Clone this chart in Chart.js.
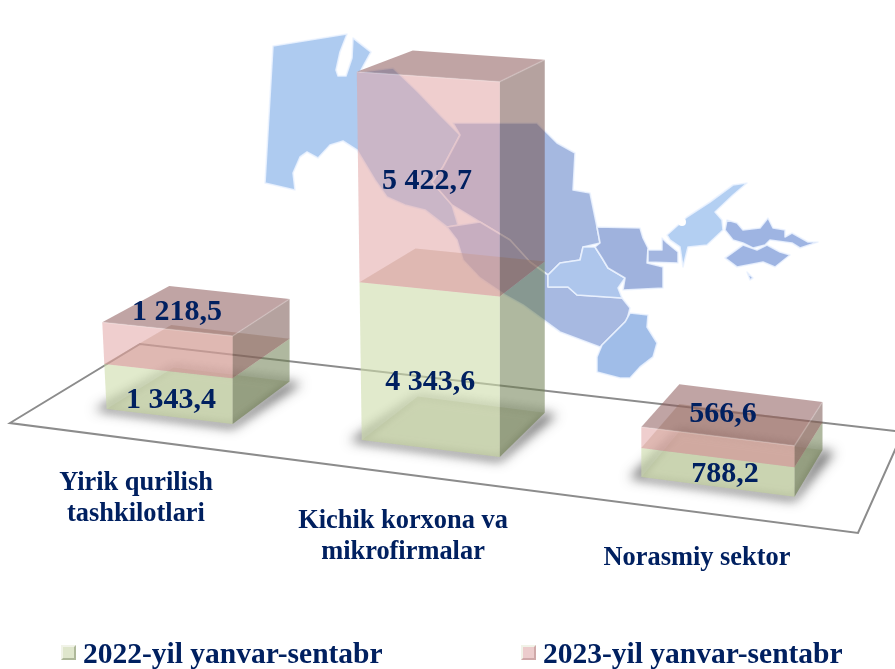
<!DOCTYPE html>
<html>
<head>
<meta charset="utf-8">
<style>
    html, body { margin: 0; padding: 0; background: #fff; overflow: hidden; }
    canvas { display: block; }
</style>
<script src="https://cdn.jsdelivr.net/npm/chart.js@4"></script>
</head>
<body>
<canvas id="chart" width="895" height="669"></canvas>
<script>
// values
const categories = [["Yirik qurilish", "tashkilotlari"], ["Kichik korxona va", "mikrofirmalar"], ["Norasmiy sektor"]];
const seriesNames = ["2022-yil yanvar-sentabr", "2023-yil yanvar-sentabr"];
const values2022 = [1343.4, 4343.6, 788.2];
const values2023 = [1218.5, 5422.7, 566.6];

// fake perspective of the boxes, per category
const floorDrop = [-31, 0, 37];
const centerShift = [0, -13, 0];
const widthScale = [0.913, 1, 1.11];
const heightScale = [0.945, 1, 1.04];
const leftLean = [0.045, 0.0135, 0];
const depthLeft = [67, 56, 38];
const depthRight = [57, 45, 28];

const NAVY = "#002060";
const SERIF = '"Liberation Serif", "Times New Roman", serif';
const faces = [
    { front: "rgba(205,220,170,.6)", side: "rgba(110,125,80,.55)", top: "rgba(170,150,110,.28)", floor: "rgba(120,125,70,.2)" },
    { front: "rgba(225,165,165,.55)", side: "rgba(120,85,80,.55)", top: "rgba(140,90,90,.55)", floor: "rgba(170,120,100,.18)" }
];

// background map of the regions, only decoration
const mapRegions = [
    ["#aecbf0", [[273,46],[347,34],[340,52],[336,70],[338,76],[346,76],[352,58],[353,38],[371,52],[360,72],[393,68],[418,92],[440,115],[460,135],[443,167],[432,182],[452,205],[458,225],[447,227],[425,210],[405,205],[387,197],[375,180],[357,150],[343,141],[330,145],[318,158],[307,152],[300,157],[293,173],[295,190],[265,183]]],
    ["#a5b8e0", [[453,123],[500,123],[537,123],[557,143],[575,153],[573,190],[590,193],[597,227],[600,243],[583,247],[580,260],[560,263],[548,275],[530,262],[510,240],[480,222],[452,205],[432,182],[443,167],[460,135]]],
    ["#a7b9e1", [[447,227],[480,222],[510,240],[530,262],[548,275],[548,287],[568,287],[577,295],[607,297],[622,298],[630,308],[627,320],[600,347],[560,332],[523,305],[505,295],[480,278],[463,260],[457,240]]],
    ["#aec6ec", [[548,275],[560,263],[580,260],[583,247],[595,247],[602,258],[608,268],[625,278],[618,288],[622,298],[607,297],[577,295],[568,287],[548,287]]],
    ["#9fb2dd", [[597,227],[640,228],[643,238],[648,248],[647,263],[663,267],[663,288],[623,290],[625,278],[608,268],[602,258],[595,247],[600,243]]],
    ["#a0bde8", [[630,313],[648,315],[647,327],[657,343],[653,357],[640,367],[630,378],[620,378],[597,372],[597,357],[602,345],[625,322]]],
    ["#a3b6e0", [[648,250],[662,250],[662,238],[667,243],[678,252],[678,263],[648,262]]],
    ["#b3cff2", [[667,235],[687,217],[710,202],[733,185],[747,183],[733,195],[715,212],[722,220],[723,230],[707,245],[688,247],[683,267],[680,247],[670,240]]],
    ["#9eb4e2", [[727,220],[737,223],[743,230],[760,228],[768,218],[773,228],[785,230],[785,237],[792,233],[808,242],[818,242],[800,248],[792,243],[770,240],[765,245],[753,248],[743,243],[733,240],[725,230]]],
    ["#9eb4e2", [[725,258],[743,245],[757,250],[767,245],[780,252],[790,255],[775,267],[763,262],[737,267]]],
    ["#a6bce6", [[747,272],[753,278],[750,280]]]
];
const floorLine = [[10,423],[140,344],[903,432],[858,533]];

function slopeAt(y) {
    return 0.058 + 0.00015 * y;
}

// low parts of a box come out a bit squashed in the picture
function warp(h) {
    return h * (1 - 0.067 * (1 - h / 368));
}

// corners of one horizontal slice of a box, h is pixels above the floor
function slice(el, h) {
    const i = el.boxIndex;
    const zero = el.boxScale.getPixelForValue(0);
    const w = el.width * widthScale[i];
    const cx = el.x + centerShift[i];
    const ly = zero + floorDrop[i] - warp(h) * heightScale[i];
    const lx = cx - w / 2 - leftLean[i] * h;
    const rx = cx + w / 2;
    const ry = ly + (rx - lx) * slopeAt(ly);
    return {
        fl: [lx, ly],
        fr: [rx, ry],
        bl: [lx + depthLeft[i], ly - (17 + 0.06 * ly)],
        br: [rx + depthRight[i], ry - (17 + 0.06 * ry)]
    };
}

function sliceHeights(el) {
    const zero = el.boxScale.getPixelForValue(0);
    return [zero - el.base, zero - el.y];
}

function poly(ctx, pts, fill) {
    ctx.beginPath();
    pts.forEach((p, n) => n ? ctx.lineTo(p[0], p[1]) : ctx.moveTo(p[0], p[1]));
    ctx.closePath();
    ctx.fillStyle = fill;
    ctx.fill();
}

// replaces the flat bar drawing, same element and scale values
function drawBox(ctx) {
    const ds = this.boxSeries;
    const f = faces[ds];
    const [h0, h1] = sliceHeights(this);
    const a = slice(this, h0);
    const b = slice(this, h1);
    ctx.save();
    poly(ctx, [a.fl, a.fr, a.br, a.bl], f.floor);
    poly(ctx, [a.fr, b.fr, b.br, a.br], f.side);
    poly(ctx, [b.fl, b.fr, b.br, b.bl], f.top);
    poly(ctx, [a.fl, a.fr, b.fr, b.fl], this.options.backgroundColor);
    if (ds == 1) {
        ctx.beginPath();
        ctx.moveTo(b.fl[0], b.fl[1]);
        ctx.lineTo(b.fr[0], b.fr[1]);
        ctx.lineTo(b.br[0], b.br[1]);
        ctx.strokeStyle = "rgba(255,255,255,.2)";
        ctx.lineWidth = 1.5;
        ctx.stroke();
    }
    ctx.restore();
}

function drawMap(ctx) {
    ctx.save();
    ctx.filter = "blur(0.6px)";
    mapRegions.forEach(r => {
        poly(ctx, r[1], r[0]);
        ctx.strokeStyle = "rgba(236,243,255,.85)";
        ctx.lineWidth = 1.6;
        ctx.lineJoin = "round";
        ctx.stroke();
    });
    ctx.beginPath();
    ctx.arc(682, 222, 4, 0, Math.PI * 2);
    ctx.fillStyle = "#fff";
    ctx.fill();
    ctx.restore();
}

function drawFloor(ctx) {
    ctx.save();
    ctx.beginPath();
    floorLine.forEach((p, n) => n ? ctx.lineTo(p[0], p[1]) : ctx.moveTo(p[0], p[1]));
    ctx.closePath();
    ctx.strokeStyle = "#8c8c8c";
    ctx.lineWidth = 2;
    ctx.stroke();
    ctx.restore();
}

function drawShadows(chart, ctx) {
    chart.getDatasetMeta(0).data.forEach(el => {
        const a = slice(el, 0);
        const grown = [
            [a.fl[0] - 12, a.fl[1] + 1], [a.fr[0], a.fr[1] + 4],
            [a.br[0] + 12, a.br[1] + 2], [a.bl[0], a.bl[1]]
        ];
        ctx.save();
        ctx.shadowColor = "rgba(50,50,50,.7)";
        ctx.shadowBlur = 12;
        ctx.shadowOffsetX = 2000;
        ctx.translate(-2000, 0);
        poly(ctx, grown, "#000");
        ctx.restore();
        // the box itself hides most of the shadow
        ctx.save();
        ctx.filter = "blur(4px)";
        poly(ctx, [a.fl, a.fr, a.br, a.bl], "rgba(255,255,255,.75)");
        ctx.restore();
    });
}

function formatValue(v) {
    const parts = v.toFixed(1).split(".");
    return parts[0].replace(/\B(?=(\d{3})+$)/g, " ") + "," + parts[1];
}

// where the numbers sit, relative to the middle of the front face
const labelShift2022 = [[2, 6], [0, 13], [7, 2]];
const labelShift2023 = [[9, -38], [-2, -2], [5, -33]];
const categoryAnchor = [[136, 483], [403, 521], [697, 558]];

function drawValues(chart, ctx) {
    [labelShift2022, labelShift2023].forEach((shift, ds) => {
        chart.getDatasetMeta(ds).data.forEach((el, i) => {
            const [h0, h1] = sliceHeights(el);
            const a = slice(el, h0);
            const b = slice(el, h1);
            const cx = (a.fl[0] + a.fr[0] + b.fl[0] + b.fr[0]) / 4;
            const cy = (a.fl[1] + a.fr[1] + b.fl[1] + b.fr[1]) / 4;
            ctx.fillText(formatValue(chart.data.datasets[ds].data[i]), cx + shift[i][0], cy + shift[i][1]);
        });
    });
}

function drawCategories(chart, ctx) {
    chart.data.labels.forEach((lines, i) => {
        lines.forEach((line, n) => {
            ctx.fillText(line, categoryAnchor[i][0], categoryAnchor[i][1] + n * 31);
        });
    });
}

function drawLegend(chart, ctx) {
    const markerX = [61, 521];
    const colors = [["#dfe6cc", "#aeb89a"], ["#eccccc", "#cfa9a9"]];
    chart.data.datasets.forEach((ds, n) => {
        const x = markerX[n];
        poly(ctx, [[x, 645], [x + 15, 645], [x + 15, 660], [x, 660]], colors[n][1]);
        poly(ctx, [[x, 645], [x + 15, 645], [x + 13, 647], [x + 2, 647], [x + 2, 658], [x, 660]], "#f1f3e8");
        poly(ctx, [[x + 2, 647], [x + 13, 647], [x + 13, 658], [x + 2, 658]], colors[n][0]);
        ctx.fillStyle = NAVY;
        ctx.fillText(ds.label, x + 22, 655);
    });
}

const scenePlugin = {
    id: "scene",
    afterDatasetsUpdate(chart) {
        chart.data.datasets.forEach((ds, n) => {
            chart.getDatasetMeta(n).data.forEach((el, i) => {
                el.boxIndex = i;
                el.boxSeries = n;
                el.boxScale = chart.scales.y;
                el.draw = drawBox;
            });
        });
    },
    beforeDatasetsDraw(chart) {
        const ctx = chart.ctx;
        drawMap(ctx);
        drawShadows(chart, ctx);
        drawFloor(ctx);
        // lower box first so the upper one shows it through, the library would go the other way
        chart.getDatasetMeta(0).controller.draw();
        chart.getDatasetMeta(1).controller.draw();
        ctx.save();
        ctx.fillStyle = NAVY;
        ctx.textAlign = "center";
        ctx.textBaseline = "middle";
        ctx.font = "bold 30px " + SERIF;
        drawValues(chart, ctx);
        ctx.font = "bold 26.4px " + SERIF;
        drawCategories(chart, ctx);
        ctx.textAlign = "left";
        ctx.font = "bold 29.5px " + SERIF;
        drawLegend(chart, ctx);
        ctx.restore();
        return false;
    }
};

new Chart(document.getElementById("chart"), {
    type: "bar",
    data: {
        labels: categories,
        datasets: [
            { label: seriesNames[0], data: values2022, backgroundColor: faces[0].front },
            { label: seriesNames[1], data: values2023, backgroundColor: faces[1].front }
        ]
    },
    options: {
        responsive: false,
        animation: false,
        barThickness: 138,
        layout: { padding: { left: 32.5, right: 40, top: 63, bottom: 229 } },
        plugins: { legend: { display: false }, tooltip: { enabled: false } },
        scales: {
            x: { stacked: true, display: false },
            y: { stacked: true, display: false, min: 0, max: 10000 }
        }
    },
    plugins: [scenePlugin]
});
</script>
</body>
</html>
